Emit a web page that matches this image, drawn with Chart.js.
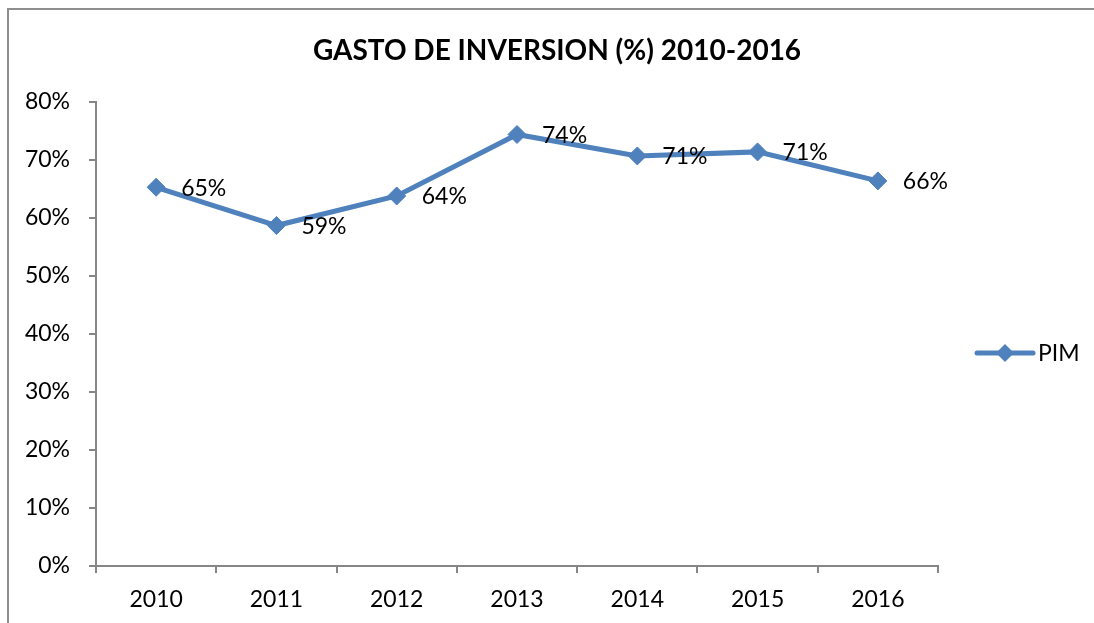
<!DOCTYPE html>
<html>
<head>
<meta charset="utf-8">
<title>Gasto de inversion</title>
<script src="https://cdn.jsdelivr.net/npm/chart.js@4"></script>
<style>
  html, body { margin: 0; padding: 0; background: #fff; }
  .wrap { position: relative; width: 1094px; height: 623px; overflow: hidden; }
  .frame {
    position: absolute; left: 7px; top: 8px; width: 1200px; height: 700px;
    border-top: 2px solid #8e8e8e; border-left: 2px solid #8e8e8e;
  }
  canvas { position: absolute; left: 0; top: 0; }
</style>
</head>
<body>
<div class="wrap">
  <div class="frame"></div>
  <canvas id="chart" width="1094" height="623"></canvas>
</div>
<script>
// datos del grafico
const years = ['2010', '2011', '2012', '2013', '2014', '2015', '2016'];
const pim = [0.653, 0.587, 0.638, 0.744, 0.707, 0.714, 0.664];
const seriesName = 'PIM';
const titleText = 'GASTO DE INVERSION (%) 2010-2016';

const BLUE = '#4F81BD';
const AXIS = '#868686';
const FONT = 'Lato, "Open Sans", sans-serif';

// titulo centrado sobre el marco del grafico (el marco sigue a la derecha del recorte)
const frameTitle = {
  id: 'frameTitle',
  afterDraw(chart) {
    const ctx = chart.ctx;
    ctx.save();
    ctx.font = 'bold 28px ' + FONT;
    ctx.fillStyle = '#000';
    ctx.textAlign = 'center';
    ctx.textBaseline = 'middle';
    ctx.fillText(titleText, (chart.width + 20) / 2, 51);
    ctx.restore();
  }
};

// etiquetas de datos a la derecha de cada punto
const pointLabels = {
  id: 'pointLabels',
  afterDatasetsDraw(chart) {
    const ctx = chart.ctx;
    const meta = chart.getDatasetMeta(0);
    ctx.save();
    ctx.font = '23px ' + FONT;
    ctx.fillStyle = '#000';
    ctx.textAlign = 'left';
    ctx.textBaseline = 'middle';
    meta.data.forEach((pt, i) => {
      ctx.fillText(Math.round(pim[i] * 100) + '%', pt.x + 25, pt.y + 1);
    });
    ctx.restore();
  }
};

// leyenda estilo Excel: linea con rombo
const sideLegend = {
  id: 'sideLegend',
  afterDraw(chart) {
    const ctx = chart.ctx;
    const area = chart.chartArea;
    const x0 = area.right + 39;
    const x1 = x0 + 56;
    const y = area.top + 251;
    ctx.save();
    ctx.strokeStyle = BLUE;
    ctx.lineWidth = 5;
    ctx.lineCap = 'round';
    ctx.beginPath();
    ctx.moveTo(x0, y);
    ctx.lineTo(x1, y);
    ctx.stroke();
    const cx = (x0 + x1) / 2;
    ctx.fillStyle = BLUE;
    ctx.beginPath();
    ctx.moveTo(cx, y - 9);
    ctx.lineTo(cx + 9, y);
    ctx.lineTo(cx, y + 9);
    ctx.lineTo(cx - 9, y);
    ctx.closePath();
    ctx.fill();
    ctx.font = '23px ' + FONT;
    ctx.fillStyle = '#000';
    ctx.textBaseline = 'middle';
    ctx.fillText(seriesName, x1 + 5, y + 1);
    ctx.restore();
  }
};

new Chart(document.getElementById('chart'), {
  type: 'line',
  data: {
    labels: years,
    datasets: [{
      label: seriesName,
      data: pim,
      borderColor: BLUE,
      backgroundColor: BLUE,
      borderWidth: 5,
      pointStyle: 'rectRot',
      pointRadius: 9,
      pointHoverRadius: 9,
      pointBorderWidth: 1,
      tension: 0
    }]
  },
  options: {
    responsive: false,
    animation: false,
    events: [],
    layout: { padding: { left: 0, right: 156, top: 102, bottom: 11 } },
    plugins: {
      legend: { display: false },
      tooltip: { enabled: false },
      title: { display: false }
    },
    scales: {
      x: {
        offset: true,
        grid: { offset: true, drawOnChartArea: false, drawTicks: true, tickLength: 7, color: AXIS, lineWidth: 2 },
        border: { color: AXIS, width: 2 },
        ticks: { color: '#000', font: { family: FONT, size: 23 }, padding: 13, maxRotation: 0 },
        afterFit(scale) { scale.height = 46; }
      },
      y: {
        min: 0,
        max: 0.8,
        grid: { drawOnChartArea: false, drawTicks: true, tickLength: 7, color: AXIS, lineWidth: 2 },
        border: { color: AXIS, width: 2 },
        ticks: {
          stepSize: 0.1,
          color: '#000',
          font: { family: FONT, size: 23 },
          padding: 19,
          callback: v => Math.round(v * 100) + '%'
        },
        afterFit(scale) { scale.width = 96; }
      }
    }
  },
  plugins: [pointLabels, sideLegend, frameTitle]
});
</script>
</body>
</html>
